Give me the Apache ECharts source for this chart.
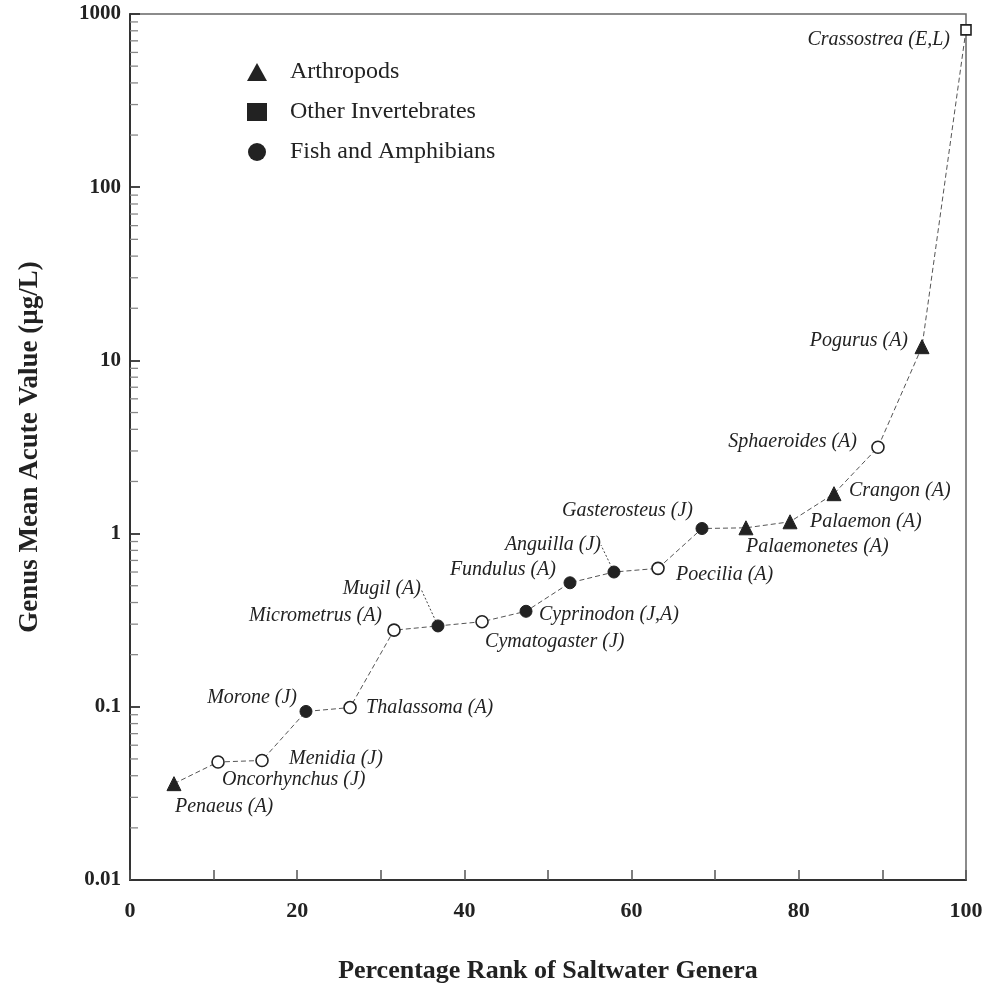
<!DOCTYPE html>
<html>
<head>
<meta charset="utf-8">
<script src="https://cdn.jsdelivr.net/npm/echarts@6/dist/echarts.min.js"></script>
<style>
html,body{margin:0;padding:0;background:#fff;}
#chart{width:989px;height:989px;}
</style>
</head>
<body>
<div id="chart"></div>
<script>
// ---- data ----
const genera = ['Penaeus (A)', 'Oncorhynchus (J)', 'Menidia (J)', 'Morone (J)', 'Thalassoma (A)',
  'Micrometrus (A)', 'Mugil (A)', 'Cymatogaster (J)', 'Cyprinodon (J,A)', 'Fundulus (A)',
  'Anguilla (J)', 'Poecilia (A)', 'Gasterosteus (J)', 'Palaemonetes (A)', 'Palaemon (A)',
  'Crangon (A)', 'Sphaeroides (A)', 'Pogurus (A)', 'Crassostrea (E,L)'];
const percentRank = [5.26, 10.53, 15.79, 21.05, 26.32, 31.58, 36.84, 42.11, 47.37, 52.63,
  57.89, 63.16, 68.42, 73.68, 78.95, 84.21, 89.47, 94.74, 100];
const gmav = [0.036, 0.048, 0.049, 0.094, 0.099, 0.277, 0.293, 0.31, 0.356, 0.52,
  0.60, 0.63, 1.07, 1.08, 1.17, 1.70, 3.15, 12.0, 810];
// A = Arthropods, I = Other Invertebrates, F = Fish and Amphibians
const groupCode = ['A', 'F', 'F', 'F', 'F', 'F', 'F', 'F', 'F', 'F', 'F', 'F', 'F', 'A', 'A', 'A', 'F', 'A', 'I'];
const filled = [1, 0, 0, 1, 0, 0, 1, 0, 1, 1, 1, 0, 1, 1, 1, 1, 0, 1, 0];
const yTickLabels = ['0.01', '0.1', '1', '10', '100', '1000'];
const xTickLabels = ['0', '20', '40', '60', '80', '100'];

// ---- label placement (style only) : [align, dx, dy] ----
const labelPlace = {
  'Penaeus (A)': ['left', 1, 23],
  'Oncorhynchus (J)': ['left', 4, 18],
  'Menidia (J)': ['left', 27, -2],
  'Morone (J)': ['right', -9, -14],
  'Thalassoma (A)': ['left', 16, 0],
  'Micrometrus (A)': ['right', -12, -14],
  'Mugil (A)': ['right', -17, -37],
  'Cymatogaster (J)': ['left', 3, 20],
  'Cyprinodon (J,A)': ['left', 13, 3],
  'Fundulus (A)': ['right', -14, -13],
  'Anguilla (J)': ['right', -13, -27],
  'Poecilia (A)': ['left', 18, 6],
  'Gasterosteus (J)': ['right', -9, -18],
  'Palaemonetes (A)': ['left', 0, 19],
  'Palaemon (A)': ['left', 20, 0],
  'Crangon (A)': ['left', 15, -3],
  'Sphaeroides (A)': ['right', -21, -6],
  'Pogurus (A)': ['right', -14, -6],
  'Crassostrea (E,L)': ['right', -16, 10]
};
const leaderLines = { 'Mugil (A)': true, 'Anguilla (J)': true };

const serif = "'Liberation Serif', 'Times New Roman', serif";
const ink = '#222222';

function groupData(code) {
  const out = [];
  for (let i = 0; i < genera.length; i++) {
    if (groupCode[i] !== code) continue;
    out.push({
      name: genera[i],
      value: [percentRank[i], gmav[i]],
      itemStyle: filled[i]
        ? { color: ink, borderColor: ink, borderWidth: 1, opacity: 1 }
        : { color: '#ffffff', borderColor: ink, borderWidth: 1.6, opacity: 1 }
    });
  }
  return out;
}

const labelData = genera.map((g, i) => {
  const p = labelPlace[g];
  const item = {
    name: g,
    value: [percentRank[i], gmav[i]],
    label: { align: p[0], offset: [p[1], p[2]] }
  };
  if (leaderLines[g]) {
    item.labelLine = { show: true, lineStyle: { color: '#444', width: 1, type: [2, 2], opacity: 1 } };
  }
  return item;
});

const minorVals = [];
for (let e = -2; e < 3; e++) {
  for (let m = 2; m <= 9; m++) minorVals.push([0, m * Math.pow(10, e)]);
}

const chart = echarts.init(document.getElementById('chart'), null, { renderer: 'canvas' });
chart.setOption({
  backgroundColor: '#ffffff',
  animation: false,
  grid: { left: 130, right: 23, top: 14, bottom: 107, show: true, borderColor: '#666', borderWidth: 1.5 },
  legend: {
    orient: 'vertical', left: 242, top: 55, itemGap: 16, itemWidth: 20, itemHeight: 18,
    textStyle: { fontFamily: serif, fontSize: 24, color: ink, padding: [0, 0, 0, 18] },
    data: [
      { name: 'Arthropods', icon: 'triangle', itemStyle: { color: ink, borderWidth: 0, opacity: 1 } },
      { name: 'Other Invertebrates', icon: 'rect', itemStyle: { color: ink, borderWidth: 0, opacity: 1 } },
      { name: 'Fish and Amphibians', icon: 'circle', itemStyle: { color: ink, borderWidth: 0, opacity: 1 } }
    ]
  },
  xAxis: {
    type: 'value', min: 0, max: 100, interval: 10,
    name: 'Percentage Rank of Saltwater Genera', nameLocation: 'middle', nameGap: 78,
    nameTextStyle: { fontFamily: serif, fontWeight: 'bold', fontSize: 26, color: ink },
    axisLine: { lineStyle: { color: '#333', width: 2 } },
    axisTick: { inside: true, length: 10, lineStyle: { color: '#555', width: 1.5 } },
    axisLabel: {
      margin: 20, fontFamily: serif, fontWeight: 'bold', fontSize: 22, color: ink,
      formatter: v => { const s = String(v); return xTickLabels.indexOf(s) >= 0 ? s : ''; }
    },
    splitLine: { show: false }
  },
  yAxis: {
    type: 'log', logBase: 10, min: 0.01, max: 1000,
    name: 'Genus Mean Acute Value (\u00b5g/L)', nameLocation: 'middle', nameGap: 86, nameRotate: 90,
    nameTextStyle: { fontFamily: serif, fontWeight: 'bold', fontSize: 27, color: ink },
    axisLine: { lineStyle: { color: '#333', width: 2 } },
    axisTick: { inside: true, length: 10, lineStyle: { color: '#333', width: 1.8 } },
    axisLabel: {
      margin: 9, fontFamily: serif, fontWeight: 'bold', fontSize: 21, color: ink,
      formatter: v => {
        const s = String(+v.toPrecision(6));
        return yTickLabels.indexOf(s) >= 0 ? s : '';
      }
    },
    splitLine: { show: false }
  },
  series: [
    {
      type: 'custom', name: 'minorTicks', silent: true, z: 1,
      renderItem: (params, api) => {
        const p = api.coord([0, api.value(1)]);
        return {
          type: 'line',
          shape: { x1: p[0], y1: p[1], x2: p[0] + 8, y2: p[1] },
          style: { stroke: '#888', lineWidth: 1.3 }
        };
      },
      data: minorVals, clip: false
    },
    {
      type: 'line', name: 'connect', silent: true, z: 2,
      data: genera.map((g, i) => [percentRank[i], gmav[i]]),
      showSymbol: false, symbol: 'none',
      lineStyle: { color: '#555', width: 1, type: [5, 3] }
    },
    {
      type: 'scatter', name: 'Arthropods', z: 5, symbol: 'triangle', symbolSize: 14,
      itemStyle: { color: ink, opacity: 1 },
      data: groupData('A')
    },
    {
      type: 'scatter', name: 'Other Invertebrates', z: 5, symbol: 'rect', symbolSize: 10,
      itemStyle: { color: ink, opacity: 1 },
      data: groupData('I')
    },
    {
      type: 'scatter', name: 'Fish and Amphibians', z: 5, symbol: 'circle', symbolSize: 12,
      itemStyle: { color: ink, opacity: 1 },
      data: groupData('F')
    },
    {
      type: 'scatter', name: 'labels', z: 4, symbol: 'circle', symbolSize: 2,
      itemStyle: { color: 'rgba(0,0,0,0)', opacity: 1 },
      label: {
        show: true, position: 'inside', verticalAlign: 'middle',
        formatter: p => p.name, opacity: 1,
        fontFamily: serif, fontStyle: 'italic', fontSize: 20, color: '#222'
      },
      labelLine: { show: false },
      data: labelData
    }
  ]
});
</script>
</body>
</html>
